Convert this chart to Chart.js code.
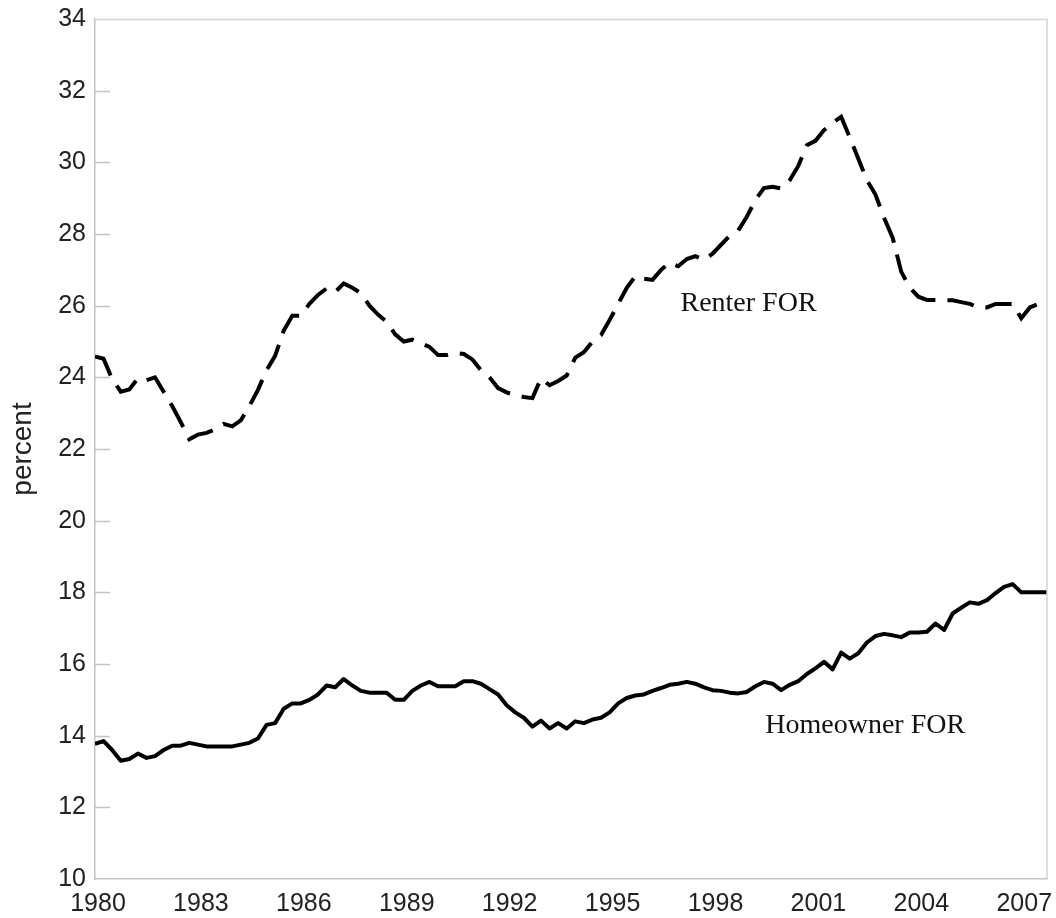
<!DOCTYPE html>
<html>
<head>
<meta charset="utf-8">
<title>Renter and Homeowner FOR</title>
<script src="https://cdn.jsdelivr.net/npm/chart.js@4.4.1/dist/chart.umd.min.js"></script>
<style>
  html, body { margin: 0; padding: 0; background: #fff; }
  #wrap { width: 1056px; height: 918px; position: relative; }
</style>
</head>
<body>
<div id="wrap"><canvas id="forChart"></canvas></div>
<script>
// quarterly data, 1980Q1 .. 2007Q4
const startYear = 1980;
const renterFor = [
  24.58, 24.52, 23.95, 23.60, 23.66, 23.97, 23.92, 24.00, 23.60, 23.20,
  22.75, 22.27, 22.40, 22.45, 22.55, 22.70, 22.63, 22.80, 23.20, 23.65,
  24.20, 24.60, 25.30, 25.72, 25.72, 26.05, 26.30, 26.48, 26.38, 26.62,
  26.50, 26.35, 26.00, 25.75, 25.55, 25.20, 25.00, 25.05, 24.95, 24.85,
  24.62, 24.62, 24.68, 24.65, 24.50, 24.20, 24.00, 23.70, 23.58, 23.50,
  23.45, 23.42, 23.97, 23.78, 23.90, 24.05, 24.55, 24.70, 25.00, 25.18,
  25.60, 26.05, 26.50, 26.82, 26.75, 26.72, 27.00, 27.20, 27.10, 27.30,
  27.38, 27.28, 27.45, 27.70, 27.95, 28.10, 28.48, 28.95, 29.28, 29.32,
  29.27, 29.50, 29.90, 30.48, 30.60, 30.90, 31.10, 31.27, 30.70, 30.10,
  29.50, 29.10, 28.45, 27.90, 26.95, 26.50, 26.25, 26.16, 26.16, 26.15,
  26.15, 26.10, 26.05, 25.95, 25.95, 26.05, 26.05, 26.05, 25.65, 25.95,
  26.05, 26.20
];
const homeownerFor = [
  13.77, 13.85, 13.60, 13.30, 13.35, 13.50, 13.38, 13.43, 13.60, 13.72,
  13.72, 13.80, 13.75, 13.70, 13.70, 13.70, 13.70, 13.75, 13.80, 13.92,
  14.30, 14.35, 14.75, 14.90, 14.90, 15.00, 15.15, 15.40, 15.35, 15.58,
  15.40, 15.25, 15.20, 15.20, 15.20, 15.00, 15.00, 15.25, 15.40, 15.50,
  15.38, 15.38, 15.38, 15.52, 15.52, 15.45, 15.30, 15.15, 14.85, 14.65,
  14.50, 14.25, 14.42, 14.20, 14.35, 14.20, 14.40, 14.35, 14.45, 14.50,
  14.65, 14.90, 15.05, 15.12, 15.15, 15.25, 15.33, 15.42, 15.45, 15.50,
  15.45, 15.35, 15.27, 15.25, 15.20, 15.18, 15.22, 15.38, 15.50, 15.45,
  15.27, 15.42, 15.52, 15.72, 15.88, 16.06, 15.85, 16.32, 16.15, 16.30,
  16.60, 16.78, 16.84, 16.80, 16.75, 16.88, 16.88, 16.90, 17.13, 16.95,
  17.41, 17.57, 17.72, 17.68, 17.78, 17.98, 18.15, 18.23, 18.00, 18.00,
  18.00, 18.00
];
const yearTicks = [1980, 1983, 1986, 1989, 1992, 1995, 1998, 2001, 2004, 2007];
const yTicks = [10, 12, 14, 16, 18, 20, 22, 24, 26, 28, 30, 32, 34];

// where the series names sit (year, value)
const seriesLabels = [
  { text: 'Renter FOR', x: 1999.05, y: 25.85 },
  { text: 'Homeowner FOR', x: 2002.45, y: 14.07 }
];

const toPoints = (arr) => arr.map((v, i) => ({ x: startYear + i / 4, y: v }));

// frame around the plot, inward tick marks on the left axis, series names
const framePlugin = {
  id: 'frame',
  afterDatasetsDraw(chart) {
    const { ctx, chartArea, scales } = chart;
    const { left, right, top, bottom } = chartArea;
    ctx.save();
    ctx.lineWidth = 1.5;
    ctx.strokeStyle = '#d4d4d4';
    ctx.beginPath();
    ctx.moveTo(left, top + 0.5);
    ctx.lineTo(right, top + 0.5);
    ctx.lineTo(right, bottom);
    ctx.stroke();

    ctx.strokeStyle = '#c4c4c4';
    ctx.beginPath();
    yTicks.forEach(v => {
      if (v === yTicks[0] || v === yTicks[yTicks.length - 1]) return;
      const py = Math.round(scales.y.getPixelForValue(v)) + 0.5;
      ctx.moveTo(left, py);
      ctx.lineTo(left + 15, py);
    });
    ctx.stroke();

    ctx.fillStyle = '#111';
    ctx.font = '28px "Liberation Serif", "Times New Roman", serif';
    ctx.textAlign = 'center';
    ctx.textBaseline = 'alphabetic';
    seriesLabels.forEach(l => {
      ctx.fillText(l.text, scales.x.getPixelForValue(l.x), scales.y.getPixelForValue(l.y));
    });
    ctx.restore();
  }
};

const ctx = document.getElementById('forChart').getContext('2d');
new Chart(ctx, {
  type: 'line',
  data: {
    datasets: [
      {
        label: 'Renter FOR',
        data: toPoints(renterFor),
        borderColor: '#000',
        borderWidth: 4,
        borderDash: [27, 12],
        pointRadius: 0,
        tension: 0,
        fill: false
      },
      {
        label: 'Homeowner FOR',
        data: toPoints(homeownerFor),
        borderColor: '#000',
        borderWidth: 4,
        borderJoinStyle: 'round',
        pointRadius: 0,
        tension: 0,
        fill: false
      }
    ]
  },
  options: {
    responsive: true,
    maintainAspectRatio: false,
    animation: false,
    layout: { padding: { left: 0, top: 19, right: 9, bottom: 0 } },
    plugins: {
      legend: { display: false },
      tooltip: { enabled: false }
    },
    scales: {
      x: {
        type: 'linear',
        min: startYear,
        max: startYear + (renterFor.length - 1) / 4,
        afterFit: (scale) => {
          scale.height = 39;
          scale.paddingLeft = 0;
          scale.paddingRight = 0;
        },
        afterBuildTicks: (scale) => { scale.ticks = yearTicks.map(v => ({ value: v })); },
        grid: { display: false, drawTicks: false },
        border: { display: true, color: '#c4c4c4', width: 1.5 },
        ticks: {
          color: '#222',
          font: { family: '"Liberation Sans", Arial, sans-serif', size: 25 },
          padding: 10,
          labelOffset: 3,
          maxRotation: 0,
          autoSkip: false,
          callback: (v) => String(v)
        }
      },
      y: {
        min: 10,
        max: 34,
        afterFit: (scale) => {
          scale.width = 95;
          scale.paddingTop = 0;
          scale.paddingBottom = 0;
        },
        afterBuildTicks: (scale) => { scale.ticks = yTicks.map(v => ({ value: v })); },
        grid: { display: false, drawTicks: false },
        border: { display: true, color: '#c4c4c4', width: 1.5 },
        title: {
          display: true,
          text: 'percent',
          color: '#222',
          font: { family: '"Liberation Sans", Arial, sans-serif', size: 28 },
          padding: { top: 6, bottom: 0 }
        },
        ticks: {
          color: '#222',
          font: { family: '"Liberation Sans", Arial, sans-serif', size: 25 },
          padding: 9
        }
      }
    }
  },
  plugins: [framePlugin]
});
</script>
</body>
</html>
